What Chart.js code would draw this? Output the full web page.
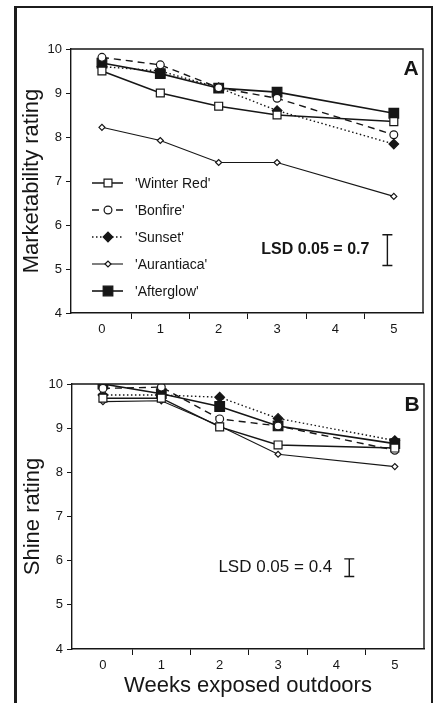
<!DOCTYPE html>
<html>
<head>
<meta charset="utf-8">
<script src="https://cdn.jsdelivr.net/npm/chart.js@4.4.1/dist/chart.umd.min.js"></script>
<style>
  html, body { margin: 0; padding: 0; background: #fff; }
  body { width: 435px; height: 703px; position: relative; overflow: hidden; }
  #frame {
    position: absolute; left: 14px; top: 6px; width: 414px; height: 720px;
    border-left: 3px solid #1c1c1c; border-top: 2px solid #1c1c1c; border-right: 2px solid #1c1c1c;
  }
  canvas { position: absolute; left: 0; }
  #chartA { top: 0; }
  #chartB { top: 350px; }
</style>
</head>
<body>
<div id="frame"></div>
<canvas id="chartA" width="435" height="350"></canvas>
<canvas id="chartB" width="435" height="353"></canvas>
<script>
// weeks at which plants were rated
const WEEKS = [0, 1, 2, 3, 5];
const CULTIVARS = ["'Winter Red'", "'Bonfire'", "'Sunset'", "'Aurantiaca'", "'Afterglow'"];

// panel A: marketability rating
const MARKET_WINTER_RED = [9.5, 9.0, 8.7, 8.5, 8.35];
const MARKET_BONFIRE = [9.81, 9.64, 9.12, 8.88, 8.05];
const MARKET_SUNSET = [9.6, 9.5, 9.12, 8.6, 7.84];
const MARKET_AURANTIACA = [8.22, 7.92, 7.42, 7.42, 6.65];
const MARKET_AFTERGLOW = [9.68, 9.44, 9.11, 9.02, 8.54];

// panel B: shine rating
const SHINE_WINTER_RED = [9.68, 9.68, 9.03, 8.62, 8.55];
const SHINE_BONFIRE = [9.9, 9.93, 9.21, 9.05, 8.5];
const SHINE_SUNSET = [9.75, 9.75, 9.7, 9.22, 8.72];
const SHINE_AURANTIACA = [9.6, 9.62, 9.05, 8.41, 8.13];
const SHINE_AFTERGLOW = [10.0, 9.78, 9.49, 9.05, 8.65];

const LSD_MARKET = 0.7;
const LSD_SHINE = 0.4;

const Y_TICKS = [4, 5, 6, 7, 8, 9, 10];
const X_LABELS = [0, 1, 2, 3, 4, 5];
const X_MINOR = [0.5, 1.5, 2.5, 3.5, 4.5];

const INK = "#161616";
const FONT = "'Liberation Sans', Arial, Helvetica, sans-serif";

// look of each cultivar, same order as CULTIVARS
const STYLES = [
  { shape: "rect", radius: 5.6, fill: "#fff", dash: [], width: 1.5 },
  { shape: "circle", radius: 3.9, fill: "#fff", dash: [7, 5], width: 1.4 },
  { shape: "rectRot", radius: 4.8, fill: INK, dash: [1.5, 2.5], width: 1.4 },
  { shape: "rectRot", radius: 3, fill: "#fff", dash: [], width: 1.1 },
  { shape: "rect", radius: 6.8, fill: INK, dash: [], width: 1.6 },
];

function drawMarker(ctx, st, x, y) {
  ctx.save();
  ctx.setLineDash([]);
  ctx.fillStyle = st.fill;
  ctx.strokeStyle = INK;
  ctx.lineWidth = 1.2;
  ctx.beginPath();
  if (st.shape === "circle") {
    ctx.arc(x, y, st.radius, 0, Math.PI * 2);
  } else if (st.shape === "rect") {
    const h = st.radius * Math.SQRT1_2;
    ctx.rect(x - h, y - h, 2 * h, 2 * h);
  } else {
    const r = st.radius;
    ctx.moveTo(x - r, y); ctx.lineTo(x, y - r); ctx.lineTo(x + r, y); ctx.lineTo(x, y + r);
    ctx.closePath();
  }
  ctx.fill();
  ctx.stroke();
  ctx.restore();
}

const annotate = {
  id: "annotate",
  afterDraw(chart, args, opts) {
    const { ctx, chartArea: a, scales: { x, y } } = chart;
    ctx.save();

    // close the plot box on top and right
    ctx.strokeStyle = INK;
    ctx.lineWidth = 1.4;
    ctx.beginPath();
    ctx.moveTo(a.left, a.top);
    ctx.lineTo(a.right, a.top);
    ctx.lineTo(a.right, a.bottom);
    ctx.stroke();

    // panel letter
    ctx.fillStyle = INK;
    ctx.font = "bold 21px " + FONT;
    ctx.textAlign = "center";
    ctx.textBaseline = "middle";
    ctx.fillText(opts.letter, a.right - 12, a.top + opts.letterDy);

    // LSD bar
    const bx = x.getPixelForValue(opts.lsdX);
    const yTop = y.getPixelForValue(opts.lsdY + opts.lsd / 2);
    const yBot = y.getPixelForValue(opts.lsdY - opts.lsd / 2);
    ctx.lineWidth = 1.4;
    ctx.beginPath();
    ctx.moveTo(bx, yTop); ctx.lineTo(bx, yBot);
    ctx.moveTo(bx - 5, yTop); ctx.lineTo(bx + 5, yTop);
    ctx.moveTo(bx - 5, yBot); ctx.lineTo(bx + 5, yBot);
    ctx.stroke();
    ctx.font = opts.lsdFont + " " + FONT;
    ctx.textAlign = "right";
    ctx.fillText("LSD 0.05 = " + opts.lsd, bx - opts.lsdGap, y.getPixelForValue(opts.lsdY));

    // legend
    if (opts.legend) {
      ctx.font = "14px " + FONT;
      ctx.textAlign = "left";
      CULTIVARS.forEach((name, i) => {
        const st = STYLES[i];
        const ly = opts.legendTop + i * 27;
        ctx.setLineDash(st.dash);
        ctx.lineWidth = st.width;
        ctx.beginPath();
        ctx.moveTo(92, ly); ctx.lineTo(123, ly);
        ctx.stroke();
        ctx.setLineDash([]);
        drawMarker(ctx, st, 108, ly);
        ctx.fillStyle = INK;
        ctx.fillText(name, 135, ly + 1);
      });
    }
    ctx.restore();
  },
};

function buildChart(canvasId, series, cfg) {
  const datasets = series.map((vals, i) => {
    const st = STYLES[i];
    return {
      label: CULTIVARS[i],
      data: WEEKS.map((w, k) => ({ x: w, y: vals[k] })),
      borderColor: INK,
      borderWidth: st.width,
      borderDash: st.dash,
      tension: 0,
      pointStyle: st.shape,
      pointRadius: st.radius,
      pointBackgroundColor: st.fill,
      pointBorderColor: INK,
      pointBorderWidth: 1.2,
    };
  });

  return new Chart(document.getElementById(canvasId), {
    type: "line",
    data: { datasets },
    plugins: [annotate],
    options: {
      responsive: false,
      animation: false,
      events: [],
      layout: { padding: cfg.padding },
      plugins: {
        legend: { display: false },
        tooltip: { enabled: false },
        annotate: cfg.annotate,
      },
      scales: {
        x: {
          type: "linear",
          min: -0.53,
          max: 5.5,
          afterBuildTicks: (s) => {
            s.ticks = X_LABELS.concat(X_MINOR).sort((p, q) => p - q).map((v) => ({ value: v }));
          },
          afterFit: (s) => { s.height = cfg.xHeight; },
          ticks: {
            autoSkip: false,
            maxRotation: 0,
            padding: 3,
            color: INK,
            font: { family: FONT, size: 13 },
            callback: (v) => (Number.isInteger(v) ? String(v) : ""),
          },
          grid: {
            drawOnChartArea: false,
            tickLength: 6,
            color: (c) => (c.tick && !Number.isInteger(c.tick.value) ? INK : "rgba(0,0,0,0)"),
          },
          border: { color: INK, width: 1.4 },
          title: {
            display: !!cfg.xTitle,
            text: cfg.xTitle || "",
            color: INK,
            font: { family: FONT, size: 22 },
            padding: { top: 0, bottom: 4 },
          },
        },
        y: {
          min: 4,
          max: 10,
          afterBuildTicks: (s) => { s.ticks = Y_TICKS.map((v) => ({ value: v })); },
          afterFit: (s) => { s.width = cfg.yWidth; },
          ticks: {
            padding: 4,
            color: INK,
            font: { family: FONT, size: 13 },
          },
          grid: { drawOnChartArea: false, tickLength: 5, color: INK },
          border: { color: INK, width: 1.4 },
          title: {
            display: true,
            text: cfg.yTitle,
            color: INK,
            font: { family: FONT, size: 22 },
            padding: { top: cfg.yTitlePad, bottom: 0 },
          },
        },
      },
    },
  });
}

buildChart("chartA",
  [MARKET_WINTER_RED, MARKET_BONFIRE, MARKET_SUNSET, MARKET_AURANTIACA, MARKET_AFTERGLOW],
  {
    padding: { top: 49, right: 12, left: 0, bottom: 0 },
    xHeight: 37,
    yWidth: 71,
    yTitle: "Marketability rating",
    yTitlePad: 19,
    annotate: {
      letter: "A", letterDy: 20,
      lsd: LSD_MARKET, lsdX: 4.89, lsdY: 5.43, lsdGap: 18, lsdFont: "bold 16px",
      legend: true, legendTop: 183,
    },
  });

buildChart("chartB",
  [SHINE_WINTER_RED, SHINE_BONFIRE, SHINE_SUNSET, SHINE_AURANTIACA, SHINE_AFTERGLOW],
  {
    padding: { top: 34, right: 11, left: 0, bottom: 0 },
    xHeight: 54,
    yWidth: 72,
    yTitle: "Shine rating",
    yTitlePad: 20,
    xTitle: "Weeks exposed outdoors",
    annotate: {
      letter: "B", letterDy: 21,
      lsd: LSD_SHINE, lsdX: 4.22, lsdY: 5.84, lsdGap: 17, lsdFont: "17px",
      legend: false,
    },
  });
</script>
</body>
</html>
